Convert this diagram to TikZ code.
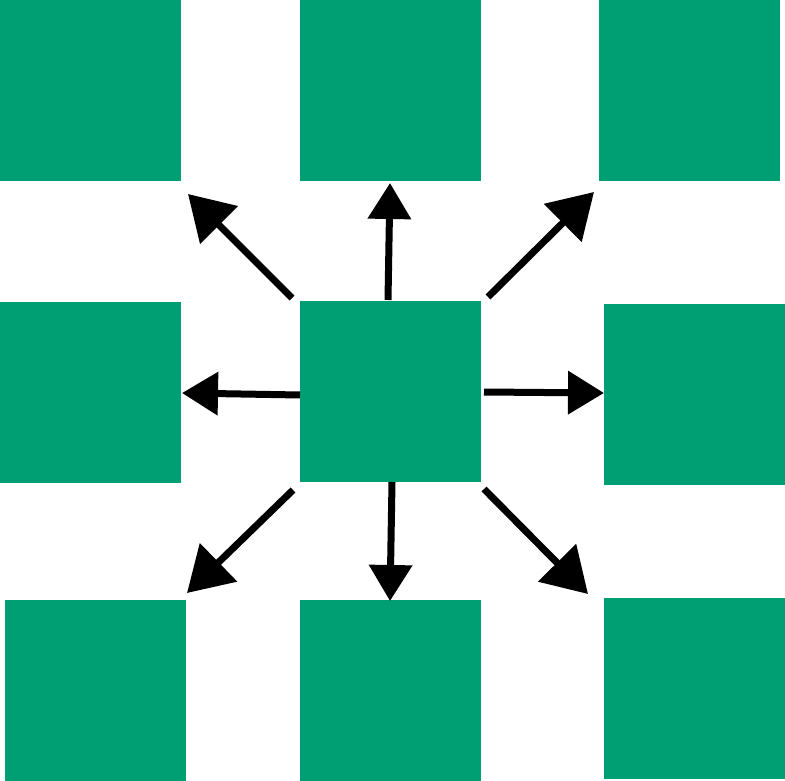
\documentclass[tikz,border=0pt]{standalone}
\usetikzlibrary{arrows.meta}
\definecolor{sqgreen}{RGB}{0,158,115}
\begin{document}
\begin{tikzpicture}[x=1pt,y=-1pt,
  sq/.style={fill=sqgreen,draw=none,minimum size=181pt,inner sep=0pt,outer sep=0pt},
  arr/.style={line width=7pt,-{Triangle[length=36pt,width=42pt]}},
  darr/.style={line width=7pt,-{Triangle[length=44pt,width=52pt]}}]
\useasboundingbox (0,0) rectangle (785,781);
\node[sq] (tl) at (90.5,90.5) {};
\node[sq] (tc) at (390.5,90.5) {};
\node[sq] (tr) at (689.5,90.5) {};
\node[sq] (ml) at (90.5,392.5) {};
\node[sq] (c)  at (390.5,391.5) {};
\node[sq] (mr) at (694.5,394.5) {};
\node[sq] (bl) at (95.5,690.5) {};
\node[sq] (bc) at (390.5,690.5) {};
\node[sq] (br) at (694.5,688.5) {};
% arrow endpoints
\coordinate (s1) at (292,298); \coordinate (e1) at (188,194);
\coordinate (s2) at (388,300); \coordinate (e2) at (390,183);
\coordinate (s3) at (488,297); \coordinate (e3) at (594,192);
\coordinate (s4) at (300,395); \coordinate (e4) at (182,393);
\coordinate (s5) at (484,392); \coordinate (e5) at (604,393);
\coordinate (s6) at (293,490); \coordinate (e6) at (187,593);
\coordinate (s7) at (392,482); \coordinate (e7) at (390,601);
\coordinate (s8) at (484,489); \coordinate (e8) at (588,594);
\draw[darr] (s1) -- (e1);
\draw[arr] (s2) -- (e2);
\draw[darr] (s3) -- (e3);
\draw[arr] (s4) -- (e4);
\draw[arr] (s5) -- (e5);
\draw[darr] (s6) -- (e6);
\draw[arr] (s7) -- (e7);
\draw[darr] (s8) -- (e8);
\end{tikzpicture}
\end{document}
